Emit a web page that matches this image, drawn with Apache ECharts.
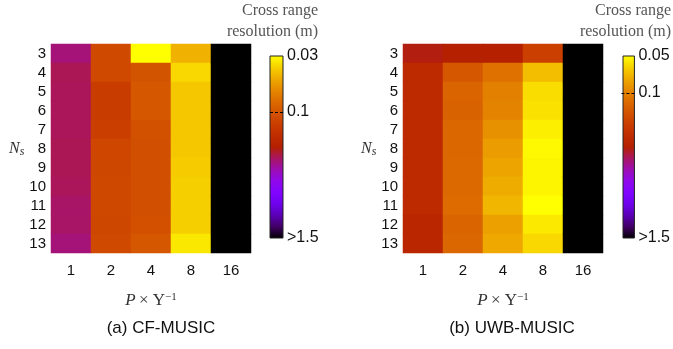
<!DOCTYPE html>
<html><head><meta charset="utf-8">
<script src="https://cdn.jsdelivr.net/npm/echarts@6/dist/echarts.min.js"></script>
<style>html,body{margin:0;padding:0;background:#fff}#c{width:673px;height:349px}</style>
</head><body><div id="c"></div>
<script>
// Categories
const pLabels = ['1', '2', '4', '8', '16'];
const nsLabels = ['3', '4', '5', '6', '7', '8', '9', '10', '11', '12', '13'];

// Cross range resolution (m), rows Ns = 3..13 ; 1.5 means ">1.5"
const cfP1  = [0.29, 0.262, 0.265, 0.265, 0.265, 0.262, 0.262, 0.265, 0.275, 0.275, 0.29];
const cfP2  = [0.114, 0.114, 0.133, 0.133, 0.13, 0.118, 0.117, 0.116, 0.116, 0.117, 0.114];
const cfP4  = [0.03, 0.101, 0.097, 0.097, 0.104, 0.107, 0.107, 0.107, 0.107, 0.106, 0.097];
const cfP8  = [0.047, 0.037, 0.041, 0.041, 0.041, 0.041, 0.040, 0.039, 0.039, 0.039, 0.034];
const cfP16 = [1.5, 1.5, 1.5, 1.5, 1.5, 1.5, 1.5, 1.5, 1.5, 1.5, 1.5];

const uwbP1  = [0.283, 0.231, 0.231, 0.231, 0.231, 0.231, 0.231, 0.231, 0.231, 0.247, 0.247];
const uwbP2  = [0.274, 0.139, 0.125, 0.127, 0.122, 0.122, 0.12, 0.12, 0.118, 0.125, 0.122];
const uwbP4  = [0.274, 0.113, 0.101, 0.099, 0.09, 0.084, 0.08, 0.076, 0.072, 0.082, 0.078];
const uwbP8  = [0.176, 0.0695, 0.0589, 0.0577, 0.0536, 0.0518, 0.0525, 0.0525, 0.05, 0.0554, 0.0601];
const uwbP16 = [1.5, 1.5, 1.5, 1.5, 1.5, 1.5, 1.5, 1.5, 1.5, 1.5, 1.5];

// Colour bar ticks
const cfBarTicks = [0.03, 0.1, 1.5];
const cfBarLabels = ['0.03', '0.1', '>1.5'];
const uwbBarTicks = [0.05, 0.1, 1.5];
const uwbBarLabels = ['0.05', '0.1', '>1.5'];

// gnuplot-like colormap, from best (yellow, smallest value) to worst (black)
const cmap = ['#ffff00', '#f7d200', '#efab00', '#e68900', '#dd6c00', '#d35300', '#ca3e00', '#bf2d00',
  '#b42000', '#a91562', '#9c0db4', '#8f08ec', '#8004ff', '#6e02ec', '#5a00b4', '#400062', '#000000'];

function build(cols) {
  const out = [];
  cols.forEach((col, ci) => col.forEach((v, ri) => out.push([ci, ri, Math.log10(v)])));
  return out;
}
const cfData = build([cfP1, cfP2, cfP4, cfP8, cfP16]);
const uwbData = build([uwbP1, uwbP2, uwbP4, uwbP8, uwbP16]);

const barGradient = {
  type: 'linear', x: 0, y: 0, x2: 0, y2: 1,
  colorStops: cmap.map((c, i) => ({offset: i / (cmap.length - 1), color: c}))
};

const sans = 'Liberation Sans';
const serif = 'Liberation Serif';

function heatX(gi) {
  return {
    type: 'category', gridIndex: gi, data: pLabels,
    axisLine: {show: false}, axisTick: {show: false}, splitLine: {show: false},
    axisLabel: {fontSize: 15, color: '#111', fontFamily: sans, margin: 10},
    name: '{i|P} {o|\u00d7 \u03a5}{sup|\u22121}', nameLocation: 'middle', nameGap: 39,
    nameTextStyle: {
      rich: {
        i: {fontFamily: serif, fontStyle: 'italic', fontSize: 17, color: '#333'},
        o: {fontFamily: serif, fontSize: 17, color: '#333'},
        sup: {fontFamily: serif, fontSize: 11, color: '#333', verticalAlign: 'top'}
      }
    }
  };
}
function heatY(gi) {
  return {
    type: 'category', gridIndex: gi, data: nsLabels, inverse: true,
    axisLine: {show: false}, axisTick: {show: false}, splitLine: {show: false},
    axisLabel: {fontSize: 15, color: '#111', fontFamily: sans, margin: 5, interval: 0},
    name: '{i|N}{s|s}', nameLocation: 'middle', nameRotate: 0, nameGap: 24,
    nameTextStyle: {
      rich: {
        i: {fontFamily: serif, fontStyle: 'italic', fontSize: 16, color: '#333'},
        s: {fontFamily: serif, fontStyle: 'italic', fontSize: 12, color: '#333', verticalAlign: 'bottom', padding: [6, 0, 0, 0]}
      }
    }
  };
}
function barY(gi, ticks, labels) {
  const lv = ticks.map(t => Math.log10(t));
  return {
    type: 'value', gridIndex: gi, position: 'right', inverse: true, z: 10,
    min: lv[0], max: lv[lv.length - 1],
    axisLine: {show: false, onZero: false}, splitLine: {show: false},
    axisTick: {show: true, inside: true, length: 15, customValues: [lv[1]],
      lineStyle: {type: [3, 2], color: '#000', width: 1}},
    axisLabel: {
      customValues: lv, fontSize: 16, color: '#111', fontFamily: sans, margin: 4,
      formatter: v => { const i = lv.findIndex(x => Math.abs(x - v) < 1e-6); return i >= 0 ? labels[i] : ''; }
    }
  };
}

const option = {
  animation: false,
  backgroundColor: '#fff',
  title: [
    {text: 'Cross range\nresolution (m)', left: 318, top: 0, textAlign: 'right', padding: 0,
      textStyle: {fontFamily: serif, fontSize: 16, fontWeight: 'normal', color: '#555', lineHeight: 21}},
    {text: 'Cross range\nresolution (m)', left: 671, top: 0, textAlign: 'right', padding: 0,
      textStyle: {fontFamily: serif, fontSize: 16, fontWeight: 'normal', color: '#555', lineHeight: 21}},
    {text: '(a) CF-MUSIC', left: 161, top: 320, textAlign: 'center', padding: 0,
      textStyle: {fontFamily: sans, fontSize: 17, fontWeight: 'normal', color: '#111'}},
    {text: '(b) UWB-MUSIC', left: 512, top: 320, textAlign: 'center', padding: 0,
      textStyle: {fontFamily: sans, fontSize: 17, fontWeight: 'normal', color: '#111'}}
  ],
  grid: [
    {left: 51, top: 44, width: 200, height: 209},
    {left: 403, top: 44, width: 200, height: 209},
    {left: 270, top: 56, width: 13, height: 182, show: true, borderColor: '#222', borderWidth: 1, backgroundColor: barGradient},
    {left: 623, top: 56, width: 13, height: 182, show: true, borderColor: '#222', borderWidth: 1, backgroundColor: barGradient}
  ],
  xAxis: [
    heatX(0), heatX(1),
    {type: 'category', data: [''], gridIndex: 2, show: false},
    {type: 'category', data: [''], gridIndex: 3, show: false}
  ],
  yAxis: [
    heatY(0), heatY(1),
    barY(2, cfBarTicks, cfBarLabels),
    barY(3, uwbBarTicks, uwbBarLabels)
  ],
  visualMap: [
    {type: 'continuous', show: false, seriesIndex: 0, min: Math.log10(cfBarTicks[0]), max: Math.log10(cfBarTicks[2]),
      inRange: {color: cmap}, outOfRange: {color: '#000'}},
    {type: 'continuous', show: false, seriesIndex: 1, min: Math.log10(uwbBarTicks[0]), max: Math.log10(uwbBarTicks[2]),
      inRange: {color: cmap}, outOfRange: {color: '#000'}}
  ],
  series: [
    {type: 'heatmap', xAxisIndex: 0, yAxisIndex: 0, data: cfData, itemStyle: {borderWidth: 0}, emphasis: {disabled: true}},
    {type: 'heatmap', xAxisIndex: 1, yAxisIndex: 1, data: uwbData, itemStyle: {borderWidth: 0}, emphasis: {disabled: true}}
  ]
};
echarts.init(document.getElementById('c'), null, {renderer: 'canvas'}).setOption(option);
</script></body></html>
